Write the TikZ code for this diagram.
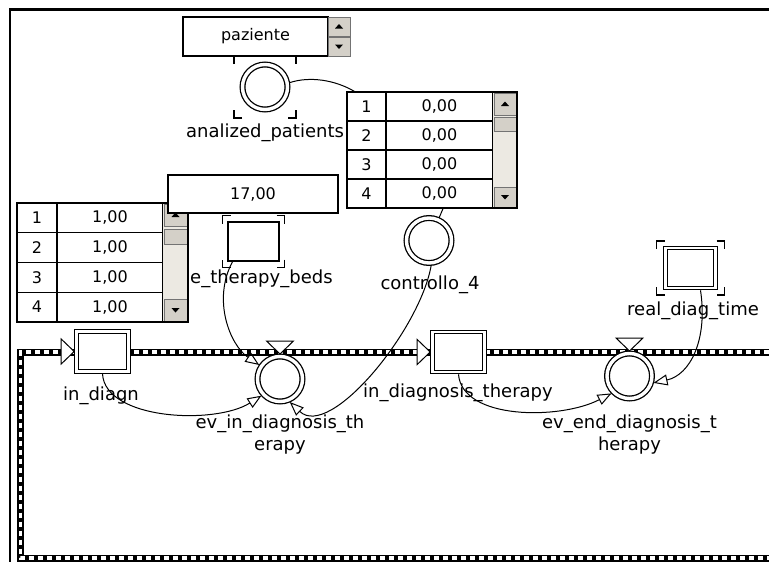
\documentclass[tikz,border=0pt]{standalone}
\usepackage{fontspec}
\setmainfont{DejaVu Sans}
\usetikzlibrary{arrows.meta, calc}
\definecolor{btngray}{RGB}{212,208,200}
\definecolor{trackgray}{RGB}{236,233,226}
\newcommand{\corners}[3]{% node, half width, half height
  \draw[corner] ([xshift=-#2pt, yshift=#3pt-8pt]#1.center) -- ++(0pt,8pt) -- ++(8pt,0pt);
  \draw[corner] ([xshift=#2pt-8pt, yshift=#3pt]#1.center) -- ++(8pt,0pt) -- ++(0pt,-8pt);
  \draw[corner] ([xshift=#2pt, yshift=-#3pt+8pt]#1.center) -- ++(0pt,-8pt) -- ++(-8pt,0pt);
  \draw[corner] ([xshift=-#2pt+8pt, yshift=-#3pt]#1.center) -- ++(-8pt,0pt) -- ++(0pt,8pt);}
\newcommand{\uptip}[1]{\fill ([xshift=-4pt, yshift=-2pt]#1.center) --
  ([xshift=4pt, yshift=-2pt]#1.center) -- ([yshift=2.5pt]#1.center) -- cycle;}
\newcommand{\downtip}[1]{\fill ([xshift=-4pt, yshift=2pt]#1.center) --
  ([xshift=4pt, yshift=2pt]#1.center) -- ([yshift=-2.5pt]#1.center) -- cycle;}
\tikzset{
  lbl/.style={font=\fontsize{18}{22}\selectfont, align=center, inner sep=0pt},
  numtxt/.style={font=\fontsize{16}{18}\selectfont},
  place/.style={circle, draw, double, line width=1.3pt, double distance=3.4pt,
                minimum size=45pt, inner sep=0pt, outer sep=2.5pt, fill=white},
  queue/.style={rectangle, draw, double, line width=1.1pt, double distance=2.6pt,
                minimum width=52pt, minimum height=40pt, inner sep=0pt,
                outer sep=2.3pt, fill=white},
  res/.style={rectangle, draw, line width=1.3pt, minimum width=51pt,
              minimum height=39pt, fill=white},
  cell/.style={rectangle, draw, line width=1.2pt, minimum height=29pt,
               inner sep=0pt, numtxt},
  tblframe/.style={rectangle, draw, line width=1.3pt, inner sep=0pt},
  valbox/.style={rectangle, draw, line width=1.3pt, inner sep=0pt, fill=white, numtxt},
  track/.style={rectangle, fill=trackgray, inner sep=0pt},
  sbtn/.style={rectangle, draw=black!55, fill=btngray, line width=0.8pt,
               inner sep=0pt},
  link/.style={line width=1pt},
  arc/.style={line width=1pt, -{Triangle[open, length=14pt, width=11pt]}},
  corner/.style={line width=1.4pt},
  gate/.style={draw, fill=white, line width=1pt, line join=miter},
}
\begin{document}
\begin{tikzpicture}[x=1pt, y=-1pt]
  \useasboundingbox (0,0) rectangle (769,562);

  % --- frame and sub-model border ---
  \draw[line width=2.5pt] (10,562) -- (10,9.5) -- (769,9.5);
  \draw[line width=7pt, line join=miter] (769,352) -- (20.5,352) -- (20.5,558) -- (769,558);
  \draw[white, line width=3.4pt, dash pattern=on 5pt off 4pt]
    (769,352) -- (20.5,352) -- (20.5,558) -- (769,558);

  % --- analized_patients ---
  \node[valbox, minimum width=145pt, minimum height=39pt] (paz) at (255.5,36.5) {paziente};
  \node[sbtn, minimum width=22pt, minimum height=19pt] (pazup) at (339,26.5) {};
  \node[sbtn, minimum width=22pt, minimum height=19pt] (pazdn) at (339,46.5) {};
  \uptip{pazup} \downtip{pazdn}
  \node[place] (ap) at (265,87) {};
  \corners{ap}{31}{31}
  \node[lbl] (lap) at (265,133) {analized\_patients};

  % --- table of free_therapy_beds ---
  \foreach \i/\yy in {1/217.9, 2/247.6, 3/277.4, 4/307.1} {
    \node[cell, minimum width=40pt, minimum height=29.75pt] (tB-i\i) at (37,\yy) {\i};
    \node[cell, minimum width=106pt, minimum height=29.75pt] (tB-v\i) at (110,\yy) {1,00};
  }
  \node[track, minimum width=25pt, minimum height=119pt] (tBtrk) at (175.5,262.5) {};
  \node[sbtn, minimum width=23pt, minimum height=22pt] (tBup) at (175.5,215) {};
  \node[sbtn, minimum width=23pt, minimum height=15pt] (tBthumb) at (175.5,236.5) {};
  \node[sbtn, minimum width=23pt, minimum height=22pt] (tBdn) at (175.5,310) {};
  \uptip{tBup} \downtip{tBdn}
  \node[tblframe, minimum width=171pt, minimum height=119pt] (tblB) at (102.5,262.5) {};

  \node[valbox, minimum width=170pt, minimum height=38pt] (beds) at (253,194) {17,00};
  \node[res] (etb) at (253.5,241.5) {};
  \corners{etb}{31}{26}
  \node[lbl, anchor=west] (letb) at (190,279) {e\_therapy\_beds};

  % --- table of controllo_4 ---
  \foreach \i/\yy in {1/106.5, 2/135.5, 3/164.5, 4/193.5} {
    \node[cell, minimum width=39pt] (tA-i\i) at (366.5,\yy) {\i};
    \node[cell, minimum width=107pt] (tA-v\i) at (439.5,\yy) {0,00};
  }
  \node[track, minimum width=24pt, minimum height=116pt] (tAtrk) at (505,150) {};
  \node[sbtn, minimum width=22pt, minimum height=22pt] (tAup) at (505,104) {};
  \node[sbtn, minimum width=22pt, minimum height=14pt] (tAthumb) at (505,124) {};
  \node[sbtn, minimum width=22pt, minimum height=20pt] (tAdn) at (505,197) {};
  \uptip{tAup} \downtip{tAdn}
  \node[tblframe, minimum width=170pt, minimum height=116pt] (tblA) at (432,150) {};

  \node[place] (ctl) at (429,240.5) {};
  \node[lbl] (lctl) at (430,285) {controllo\_4};

  % --- queues ---
  \node[queue] (indg) at (102.5,351.5) {};
  \draw[gate] (indg.west) -- ++(-13pt,12.5pt) -- ++(0pt,-25pt) -- cycle;
  \node[lbl] (lindg) at (101,396) {in\_diagn};
  \node[queue] (indt) at (458.5,352) {};
  \draw[gate] (indt.west) -- ++(-13pt,12.5pt) -- ++(0pt,-25pt) -- cycle;
  \node[lbl] (lindt) at (458,393) {in\_diagnosis\_therapy};

  % --- events ---
  \node[place] (evin) at (280,379) {};
  \draw[gate] (evin.north) -- ++(-13.5pt,13pt) -- ++(27pt,0pt) -- cycle;
  \node[lbl] (levin) at (280,435) {ev\_in\_diagnosis\_th\\erapy};
  \node[place] (evend) at (629.5,376) {};
  \draw[gate] (evend.north) -- ++(-13.5pt,13pt) -- ++(27pt,0pt) -- cycle;
  \node[lbl] (levend) at (629.5,435) {ev\_end\_diagnosis\_t\\herapy};

  \node[queue, minimum width=50pt] (rdt) at (690.5,268) {};
  \corners{rdt}{34}{27}
  \node[lbl] (lrdt) at (693,311) {real\_diag\_time};

  % --- connectors ---
  \draw[link] (ap.10) .. controls (310,76) and (335,80) .. ([xshift=8pt]tblA.north west);
  \draw[link] ([xshift=11pt]tblA.south) -- (ctl.66);
  \draw[arc] (ctl.275) .. controls (420,330) and (330,440) .. (evin.293);
  \draw[arc] ([xshift=-21pt]etb.south) .. controls (212,300) and (230,345) .. (evin.146);
  \draw[arc] (indg.south) .. controls (105,420) and (215,425) .. (evin.222);
  \draw[arc] (indt.south) .. controls (462,420) and (560,420) .. (evend.224);
  \draw[arc] ([xshift=10pt]rdt.south) .. controls (708,340) and (690,375) .. (evend.344);
\end{tikzpicture}
\end{document}
